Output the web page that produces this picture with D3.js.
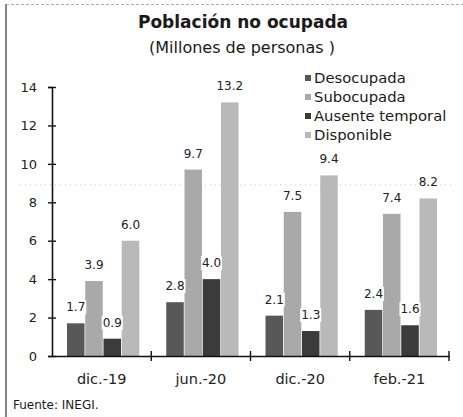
<!DOCTYPE html>
<html>
<head>
<meta charset="utf-8">
<script src="https://cdn.jsdelivr.net/npm/d3@7"></script>
<style>
  body { margin: 0; background: #fff; }
  svg { font-family: "DejaVu Sans", sans-serif; }
</style>
</head>
<body>
<svg id="chart" width="463" height="417"></svg>
<script>
// categories and series
const periods = ["dic.-19", "jun.-20", "dic.-20", "feb.-21"];
const seriesNames = ["Desocupada", "Subocupada", "Ausente temporal", "Disponible"];
const desocupada = [1.7, 2.8, 2.1, 2.4];
const subocupada = [3.9, 9.7, 7.5, 7.4];
const ausente = [0.9, 4.0, 1.3, 1.6];
const disponible = [6.0, 13.2, 9.4, 8.2];
const yTicks = [0, 2, 4, 6, 8, 10, 12, 14];

const colors = ["#585858", "#a9a9a9", "#3b3b3b", "#b9b9b9"];
const values = [desocupada, subocupada, ausente, disponible];

const svg = d3.select("#chart");

// frame like the scanned page
svg.append("line").attr("x1", 6).attr("x2", 6).attr("y1", 4).attr("y2", 417)
  .attr("stroke", "#333").attr("stroke-width", 1.2);
svg.append("line").attr("x1", 6).attr("x2", 463).attr("y1", 4.5).attr("y2", 4.5)
  .attr("stroke", "#999").attr("stroke-width", 0.8).attr("stroke-dasharray", "3,2");

// titles
svg.append("text").attr("x", 243).attr("y", 28).attr("text-anchor", "middle")
  .attr("font-size", 17).attr("font-weight", "bold").attr("fill", "#1a1a1a")
  .text("Población no ocupada");
svg.append("text").attr("x", 242).attr("y", 53).attr("text-anchor", "middle")
  .attr("font-size", 16).attr("fill", "#1a1a1a")
  .text("(Millones de personas )");

const x0 = d3.scaleBand().domain(periods).range([52, 449]);
const x1 = d3.scaleBand().domain(seriesNames)
  .range([15, x0.bandwidth() - 12]).paddingInner(0.04);
const y = d3.scaleLinear().domain([0, 14]).range([356, 87]);

// faint dotted line from the scan
svg.append("line").attr("x1", 20).attr("x2", 452).attr("y1", 185).attr("y2", 185)
  .attr("stroke", "#bbb").attr("stroke-width", 0.8).attr("stroke-dasharray", "1,4");

// bars
const groups = svg.selectAll(".grp")
  .data(periods)
  .join("g")
  .attr("class", "grp")
  .attr("transform", d => `translate(${x0(d)},0)`);

groups.each(function(p, i) {
  const g = d3.select(this);
  seriesNames.forEach((s, j) => {
    g.append("rect")
      .attr("x", x1(s))
      .attr("y", y(values[j][i]))
      .attr("width", x1.bandwidth())
      .attr("height", y(0) - y(values[j][i]))
      .attr("fill", colors[j]);
  });
});

// value labels with white background
groups.each(function(p, i) {
  const g = d3.select(this);
  seriesNames.forEach((s, j) => {
    const v = values[j][i];
    const cx = x1(s) + x1.bandwidth() / 2;
    const cy = y(v) - 17;
    const t = g.append("text")
      .attr("x", cx).attr("y", cy + 5)
      .attr("text-anchor", "middle")
      .attr("font-size", 12).attr("fill", "#222")
      .text(v.toFixed(1));
    const bb = t.node().getBBox();
    g.insert("rect", "text")
      .attr("x", bb.x - 1).attr("y", bb.y)
      .attr("width", bb.width + 2).attr("height", bb.height)
      .attr("fill", "#fff");
  });
});

// y axis
const yAxis = d3.axisLeft(y).tickValues(yTicks).tickSize(4).tickPadding(11).tickFormat(d3.format("d"));
const yG = svg.append("g").attr("transform", "translate(52,0)").call(yAxis);
yG.select(".domain").attr("stroke", "#111").attr("stroke-width", 1.6);
yG.selectAll(".tick line").attr("x2", 4).attr("x1", -4).attr("stroke", "#111").attr("stroke-width", 1.4);
yG.selectAll(".tick text").attr("font-size", 13).attr("fill", "#222")
  .attr("font-family", "DejaVu Sans, sans-serif");

// x axis
const xAxis = d3.axisBottom(x0).tickSize(0).tickPadding(18);
const xG = svg.append("g").attr("transform", "translate(0,356)").call(xAxis);
xG.select(".domain").attr("stroke", "#111").attr("stroke-width", 1.6);
xG.selectAll(".tick text").attr("font-size", 14.5).attr("fill", "#222")
  .attr("font-family", "DejaVu Sans, sans-serif");
xG.selectAll(".sep")
  .data(periods.slice(1).concat(["end"]))
  .join("line")
  .attr("class", "sep")
  .attr("x1", (d, i) => x0.range()[0] + x0.step() * (i + 1))
  .attr("x2", (d, i) => x0.range()[0] + x0.step() * (i + 1))
  .attr("y1", -5).attr("y2", 5)
  .attr("stroke", "#111").attr("stroke-width", 1.4);

// legend
const legend = svg.append("g").attr("transform", "translate(305,78)");
seriesNames.forEach((s, j) => {
  const row = legend.append("g").attr("transform", `translate(0,${j * 19})`);
  row.append("rect").attr("x", 0).attr("y", -3).attr("width", 6).attr("height", 6)
    .attr("fill", colors[j]);
  row.append("text").attr("x", 9).attr("y", 5)
    .attr("font-size", 14.8).attr("fill", "#1a1a1a").text(s);
});

// source
svg.append("text").attr("x", 13).attr("y", 409)
  .attr("font-size", 12).attr("fill", "#1a1a1a").text("Fuente: INEGI.");
</script>
</body>
</html>
